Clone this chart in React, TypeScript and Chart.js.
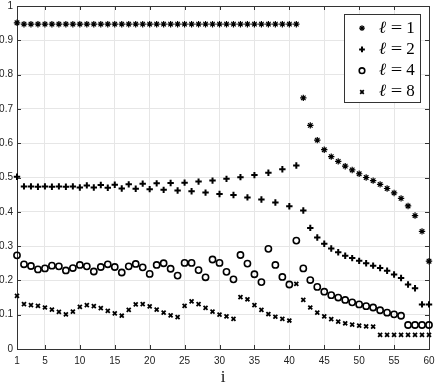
import React, { useEffect, useRef } from 'react';
import { Chart, registerables } from 'chart.js';
import { drawPoint } from 'chart.js/helpers';

Chart.register(...registerables);

const I_VALUES = [
  1, 2, 3, 4, 5, 6, 7, 8, 9, 10, 11, 12, 13, 14, 15, 16, 17, 18, 19, 20,
  21, 22, 23, 24, 25, 26, 27, 28, 29, 30, 31, 32, 33, 34, 35, 36, 37, 38, 39, 40,
  41, 42, 43, 44, 45, 46, 47, 48, 49, 50, 51, 52, 53, 54, 55, 56, 57, 58, 59, 60,
];

const L1 = [
  0.951, 0.947, 0.947, 0.947, 0.947, 0.947, 0.947, 0.947, 0.947, 0.947,
  0.947, 0.947, 0.947, 0.947, 0.947, 0.947, 0.947, 0.947, 0.947, 0.947,
  0.947, 0.947, 0.947, 0.947, 0.947, 0.947, 0.947, 0.947, 0.947, 0.947,
  0.947, 0.947, 0.947, 0.947, 0.947, 0.947, 0.947, 0.947, 0.947, 0.947,
  0.947, 0.732, 0.652, 0.609, 0.581, 0.561, 0.547, 0.533, 0.522, 0.511,
  0.500, 0.491, 0.480, 0.468, 0.455, 0.439, 0.417, 0.389, 0.343, 0.256,
];

const L2 = [
  0.502, 0.474, 0.474, 0.473, 0.474, 0.473, 0.474, 0.473, 0.474, 0.471,
  0.477, 0.471, 0.478, 0.470, 0.479, 0.468, 0.480, 0.467, 0.482, 0.466,
  0.483, 0.464, 0.484, 0.462, 0.485, 0.460, 0.488, 0.456, 0.491, 0.452,
  0.496, 0.449, 0.501, 0.442, 0.507, 0.436, 0.514, 0.427, 0.524, 0.416,
  0.535, 0.404, 0.353, 0.325, 0.307, 0.293, 0.282, 0.272, 0.265, 0.257,
  0.250, 0.243, 0.236, 0.228, 0.217, 0.207, 0.188, 0.177, 0.130, 0.130,
];

const L4 = [
  0.273, 0.247, 0.242, 0.232, 0.235, 0.243, 0.241, 0.229, 0.236, 0.245,
  0.241, 0.226, 0.239, 0.247, 0.239, 0.223, 0.241, 0.248, 0.238, 0.219,
  0.245, 0.250, 0.234, 0.214, 0.251, 0.251, 0.230, 0.209, 0.261, 0.251,
  0.225, 0.203, 0.274, 0.249, 0.218, 0.195, 0.292, 0.245, 0.210, 0.188,
  0.316, 0.235, 0.201, 0.181, 0.167, 0.157, 0.150, 0.143, 0.136, 0.130,
  0.125, 0.121, 0.113, 0.106, 0.101, 0.097, 0.070, 0.070, 0.070, 0.070,
];

const L8 = [
  0.155, 0.131, 0.128, 0.126, 0.121, 0.115, 0.108, 0.101, 0.109, 0.123,
  0.128, 0.125, 0.119, 0.111, 0.104, 0.097, 0.114, 0.130, 0.131, 0.124,
  0.115, 0.106, 0.098, 0.093, 0.126, 0.139, 0.131, 0.120, 0.109, 0.100,
  0.095, 0.088, 0.151, 0.145, 0.128, 0.114, 0.102, 0.094, 0.088, 0.083,
  0.190, 0.143, 0.121, 0.106, 0.095, 0.087, 0.080, 0.075, 0.071, 0.068,
  0.066, 0.065, 0.041, 0.041, 0.041, 0.041, 0.041, 0.041, 0.041, 0.041,
];

const X_TICKS = [1, 5, 10, 15, 20, 25, 30, 35, 40, 45, 50, 55, 60];
const Y_TICKS = [0, 0.1, 0.2, 0.3, 0.4, 0.5, 0.6, 0.7, 0.8, 0.9, 1];
const Y_TICK_LABELS = ['0', '0.1', '0.2', '0.3', '0.4', '0.5', '0.6', '0.7', '0.8', '0.9', '1'];
const LEGEND_SYMBOL = 'ℓ';
const LEGEND_VALUES = ['1', '2', '4', '8'];
const X_TITLE = 'i';

const SERIES = [L1, L2, L4, L8];
const STYLES = [
  { pointStyle: 'star', radius: 3.2, borderWidth: 1.2 },
  { pointStyle: 'cross', radius: 3.2, borderWidth: 2 },
  { pointStyle: 'circle', radius: 3.1, borderWidth: 1.6 },
  { pointStyle: 'crossRot', radius: 2.8, borderWidth: 1.8 },
];

const FRAME = '#333333';

const framePlugin = {
  id: 'matlabFrame',
  beforeDatasetsDraw(chart: any) {
    const { ctx, chartArea: a, scales } = chart;
    ctx.save();
    ctx.strokeStyle = FRAME;
    ctx.lineWidth = 1;
    const tl = 4;
    ctx.beginPath();
    for (const v of X_TICKS) {
      const x = Math.round(scales.x.getPixelForValue(v)) + 0.5;
      ctx.moveTo(x, a.bottom);
      ctx.lineTo(x, a.bottom - tl);
      ctx.moveTo(x, a.top);
      ctx.lineTo(x, a.top + tl);
    }
    for (const v of Y_TICKS) {
      const y = Math.round(scales.y.getPixelForValue(v)) + 0.5;
      ctx.moveTo(a.left, y);
      ctx.lineTo(a.left + tl, y);
      ctx.moveTo(a.right, y);
      ctx.lineTo(a.right - tl, y);
    }
    ctx.stroke();
    ctx.strokeRect(Math.round(a.left) + 0.5, Math.round(a.top) + 0.5,
      Math.round(a.right - a.left), Math.round(a.bottom - a.top));
    ctx.restore();
  },
  afterDraw(chart: any) {
    const { ctx, chartArea: a } = chart;
    ctx.save();
    // x axis title
    ctx.fillStyle = '#111';
    ctx.font = '17px "Liberation Serif"';
    ctx.textAlign = 'center';
    ctx.textBaseline = 'alphabetic';
    ctx.fillText(X_TITLE, (a.left + a.right) / 2, 381.5);

    // legend
    const bx = Math.round(a.right) - 85;
    const by = Math.round(a.top) + 8;
    const bw = 76;
    const bh = 88;
    ctx.fillStyle = '#fff';
    ctx.fillRect(bx, by, bw, bh);
    ctx.strokeStyle = FRAME;
    ctx.lineWidth = 1;
    ctx.strokeRect(bx + 0.5, by + 0.5, bw, bh);
    for (let k = 0; k < LEGEND_VALUES.length; k++) {
      const base = by + 18.5 + k * 21.3;
      const st = STYLES[k];
      ctx.strokeStyle = '#000';
      ctx.fillStyle = 'rgba(0,0,0,0)';
      ctx.lineWidth = st.borderWidth;
      drawPoint(ctx, { pointStyle: st.pointStyle as any, rotation: 0, radius: st.radius * 0.9, borderWidth: st.borderWidth }, bx + 18, base - 4.4);
      ctx.fillStyle = '#000';
      ctx.textBaseline = 'alphabetic';
      ctx.textAlign = 'left';
      ctx.font = 'italic 17px "Liberation Serif"';
      ctx.fillText(LEGEND_SYMBOL, bx + 35, base);
      ctx.font = '17px "Liberation Serif"';
      ctx.textAlign = 'center';
      ctx.save();
      ctx.translate(bx + 52.5, base);
      ctx.scale(1.2, 1);
      ctx.fillText('=', 0, 0);
      ctx.restore();
      ctx.fillText(LEGEND_VALUES[k], bx + 66.5, base);
    }
    ctx.restore();
  },
};

export default function App() {
  const ref = useRef<HTMLCanvasElement | null>(null);
  useEffect(() => {
    document.body.style.margin = '0';
    const canvas = ref.current;
    if (!canvas) return;
    const datasets = SERIES.map((vals, k) => ({
      label: `${LEGEND_SYMBOL} = ${LEGEND_VALUES[k]}`,
      data: vals.map((v, j) => ({ x: I_VALUES[j], y: v })),
      showLine: false,
      pointStyle: STYLES[k].pointStyle,
      pointRadius: STYLES[k].radius,
      pointBorderWidth: STYLES[k].borderWidth,
      borderColor: '#000',
      backgroundColor: 'rgba(0,0,0,0)',
      clip: false as any,
    }));
    const chart = new Chart(canvas, {
      type: 'scatter',
      data: { datasets: datasets as any },
      options: {
        responsive: false,
        animation: false,
        events: [],
        layout: { padding: { top: 4, right: 7, left: 0, bottom: 0 } },
        plugins: { legend: { display: false }, tooltip: { enabled: false } },
        scales: {
          x: {
            type: 'linear',
            min: 1,
            max: 60,
            afterBuildTicks: (s: any) => { s.ticks = X_TICKS.map((v) => ({ value: v })); },
            afterFit: (s: any) => { s.height = 33; s.paddingLeft = 0; s.paddingRight = 0; },
            ticks: {
              autoSkip: false,
              maxRotation: 0,
              padding: 6,
              color: '#222',
              font: { family: '"Liberation Sans", Arial, sans-serif', size: 10 },
              callback: (v: any) => String(v),
            },
            grid: { color: '#e6e6e6', drawTicks: false, tickLength: 0 },
            border: { display: false },
          },
          y: {
            type: 'linear',
            min: 0,
            max: 1,
            afterBuildTicks: (s: any) => { s.ticks = Y_TICKS.map((v) => ({ value: v })); },
            afterFit: (s: any) => { s.width = 17; s.paddingTop = 0; s.paddingBottom = 0; },
            ticks: {
              autoSkip: false,
              padding: 4,
              color: '#222',
              font: { family: '"Liberation Sans", Arial, sans-serif', size: 10 },
              callback: (v: any) => {
                const idx = Y_TICKS.findIndex((t) => Math.abs(t - v) < 1e-9);
                return idx >= 0 ? Y_TICK_LABELS[idx] : '';
              },
            },
            grid: { color: '#e6e6e6', drawTicks: false, tickLength: 0 },
            border: { display: false },
          },
        },
      },
      plugins: [framePlugin],
    });
    return () => chart.destroy();
  }, []);
  return (
    <div style={{ width: 436, height: 382 }}>
      <canvas ref={ref} width={436} height={382} style={{ display: 'block' }} />
    </div>
  );
}
